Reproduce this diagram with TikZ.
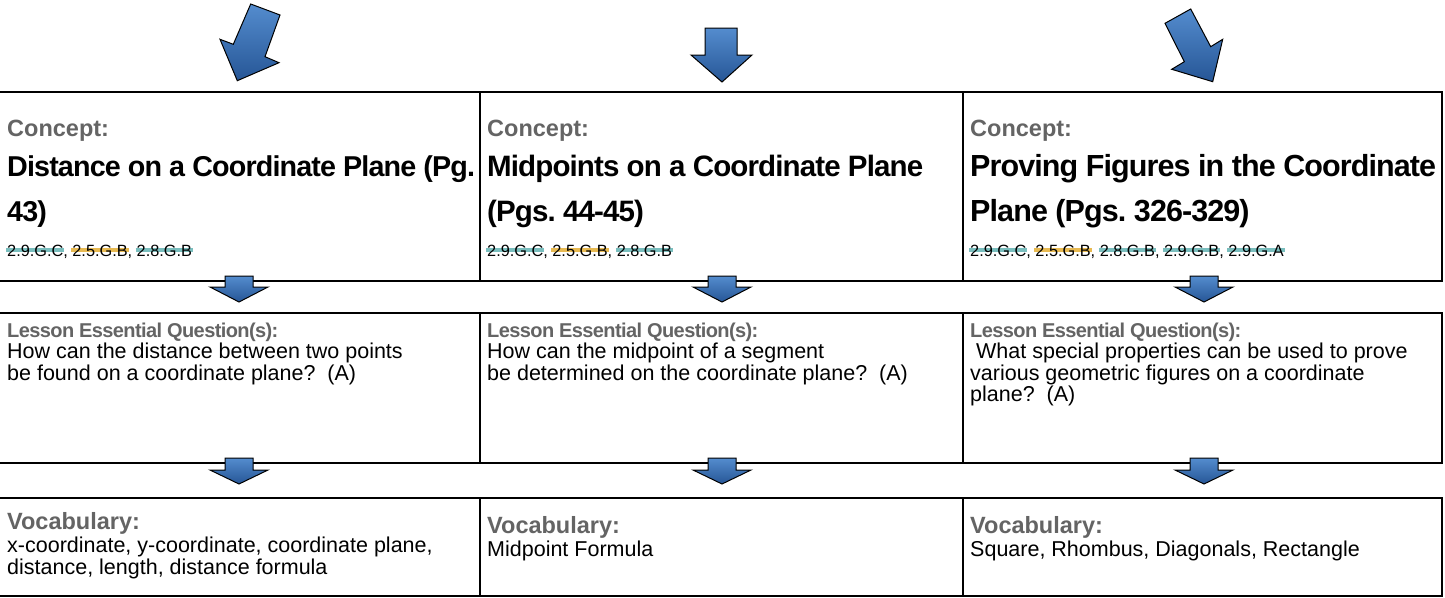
\documentclass[tikz,border=0pt]{standalone}
\usepackage{fontspec}
\setmainfont{Liberation Sans}
\newfontfamily\ttlfont[LetterSpace=-3]{Liberation Sans}
\frenchspacing
\definecolor{labelgray}{RGB}{100,100,100}
\definecolor{arrowtop}{RGB}{84,140,206}
\definecolor{arrowbot}{RGB}{38,86,150}
\definecolor{hlteal}{RGB}{122,190,190}
\definecolor{hlgold}{RGB}{232,186,82}
\newcommand{\stdhl}[2]{\setbox0\hbox{#2}\rlap{\color{#1}\kern-1pt\rule[4pt]{\dimexpr\wd0+2pt\relax}{4.2pt}}\box0}
\begin{document}
\begin{tikzpicture}[x=1pt,y=-1pt,
  cellline/.style={line width=2.8pt, draw=black},
  lbl/.style={anchor=base west, inner sep=0pt, text=labelgray, font=\bfseries\fontsize{23.5}{26}\selectfont},
  lblq/.style={lbl, font=\ttlfont\bfseries\fontsize{20}{22}\selectfont},
  bodytxt/.style={anchor=base west, inner sep=0pt, font=\fontsize{21.5}{23}\selectfont},
  ttl/.style={anchor=base west, inner sep=0pt, font=\ttlfont\bfseries\fontsize{28.7}{32}\selectfont},
  stdtxt/.style={anchor=base west, inner sep=0pt, font=\fontsize{16.3}{18}\selectfont},
  blockarrow/.style={draw=black, line width=1pt, line join=miter, top color=arrowtop, bottom color=arrowbot}]
\useasboundingbox (0,0) rectangle (1445,597);
\fill[white] (0,0) rectangle (1445,597);

% big arrows
\path[blockarrow] (250.7,4) -- (280,15) -- (265,56.7) -- (279,62.7) -- (237.3,80.7) -- (220,39.3) -- (233.3,44.3) -- cycle;
\path[blockarrow] (705,28) -- (737,28) -- (737,55) -- (752,55) -- (722,82) -- (691,55) -- (705,55) -- cycle;
\path[blockarrow] (1165,23.3) -- (1190.7,9) -- (1210.7,46.7) -- (1222.7,39.3) -- (1212.7,81.7) -- (1171.7,69.3) -- (1184.3,61.7) -- cycle;

% row 1
\draw[cellline] (0,92) -- (1442,92) -- (1442,281) -- (0,281);
\draw[cellline] (480,92) -- (480,281);
\draw[cellline] (963,92) -- (963,281);
% row 2
\draw[cellline] (0,313) -- (1442,313) -- (1442,463) -- (0,463);
\draw[cellline] (480,313) -- (480,463);
\draw[cellline] (963,313) -- (963,463);
% row 3
\draw[cellline] (0,498) -- (1442,498) -- (1442,596) -- (0,596);
\draw[cellline] (480,498) -- (480,596);
\draw[cellline] (963,498) -- (963,596);

% small arrows
\foreach \cx in {239,722,1204} {
  \path[blockarrow] (\cx-14,276) -- (\cx+14,276) -- (\cx+14,287) -- (\cx+29,287) -- (\cx,302) -- (\cx-29,287) -- (\cx-14,287) -- cycle;
  \path[blockarrow] (\cx-14,458) -- (\cx+14,458) -- (\cx+14,470) -- (\cx+29,470) -- (\cx,484) -- (\cx-29,470) -- (\cx-14,470) -- cycle;
}

% column 1
\node[lbl] (c1lbl) at (7,136) {Concept:};
\node[ttl] (c1t1) at (7,176) {Distance on a Coordinate Plane (Pg.};
\node[ttl] (c1t2) at (7,221) {43)};
\node[stdtxt] (c1std) at (7,256) {\stdhl{hlteal}{2.9.G.C}, \stdhl{hlgold}{2.5.G.B}, \stdhl{hlteal}{2.8.G.B}};
\node[lblq] (c1qlbl) at (7,337) {Lesson Essential Question(s):};
\node[bodytxt] (c1q1) at (7,358) {How can the distance between two points};
\node[bodytxt] (c1q2) at (7,380) {be found on a coordinate plane?\ \ (A)};
\node[lbl] (c1vlbl) at (7,529) {Vocabulary:};
\node[bodytxt] (c1v1) at (7,552) {x-coordinate, y-coordinate, coordinate plane,};
\node[bodytxt] (c1v2) at (7,574) {distance, length, distance formula};

% column 2
\node[lbl] (c2lbl) at (487,136) {Concept:};
\node[ttl, font=\ttlfont\bfseries\fontsize{29.5}{32}\selectfont] (c2t1) at (487,176) {Midpoints on a Coordinate Plane};
\node[ttl, font=\ttlfont\bfseries\fontsize{29.5}{32}\selectfont] (c2t2) at (487,221) {(Pgs. 44-45)};
\node[stdtxt] (c2std) at (487,256) {\stdhl{hlteal}{2.9.G.C}, \stdhl{hlgold}{2.5.G.B}, \stdhl{hlteal}{2.8.G.B}};
\node[lblq] (c2qlbl) at (487,337) {Lesson Essential Question(s):};
\node[bodytxt] (c2q1) at (487,358) {How can the midpoint of a segment};
\node[bodytxt] (c2q2) at (487,380) {be determined on the coordinate plane?\ \ (A)};
\node[lbl] (c2vlbl) at (487,533) {Vocabulary:};
\node[bodytxt] (c2v1) at (487,556) {Midpoint Formula};

% column 3
\node[lbl] (c3lbl) at (970,136) {Concept:};
\node[ttl, font=\ttlfont\bfseries\fontsize{30.5}{32}\selectfont] (c3t1) at (970,176) {Proving Figures in the Coordinate};
\node[ttl, font=\ttlfont\bfseries\fontsize{30.5}{32}\selectfont] (c3t2) at (970,221) {Plane (Pgs. 326-329)};
\node[stdtxt] (c3std) at (970,256) {\stdhl{hlteal}{2.9.G.C}, \stdhl{hlgold}{2.5.G.B}, \stdhl{hlteal}{2.8.G.B}, \stdhl{hlteal}{2.9.G.B}, \stdhl{hlteal}{2.9.G.A}};
\node[lblq] (c3qlbl) at (970,337) {Lesson Essential Question(s):};
\node[bodytxt] (c3q1) at (970,358) {\ What special properties can be used to prove};
\node[bodytxt] (c3q2) at (970,380) {various geometric figures on a coordinate};
\node[bodytxt] (c3q3) at (970,401) {plane?\ \ (A)};
\node[lbl] (c3vlbl) at (970,533) {Vocabulary:};
\node[bodytxt] (c3v1) at (970,556) {Square, Rhombus, Diagonals, Rectangle};
\end{tikzpicture}
\end{document}
